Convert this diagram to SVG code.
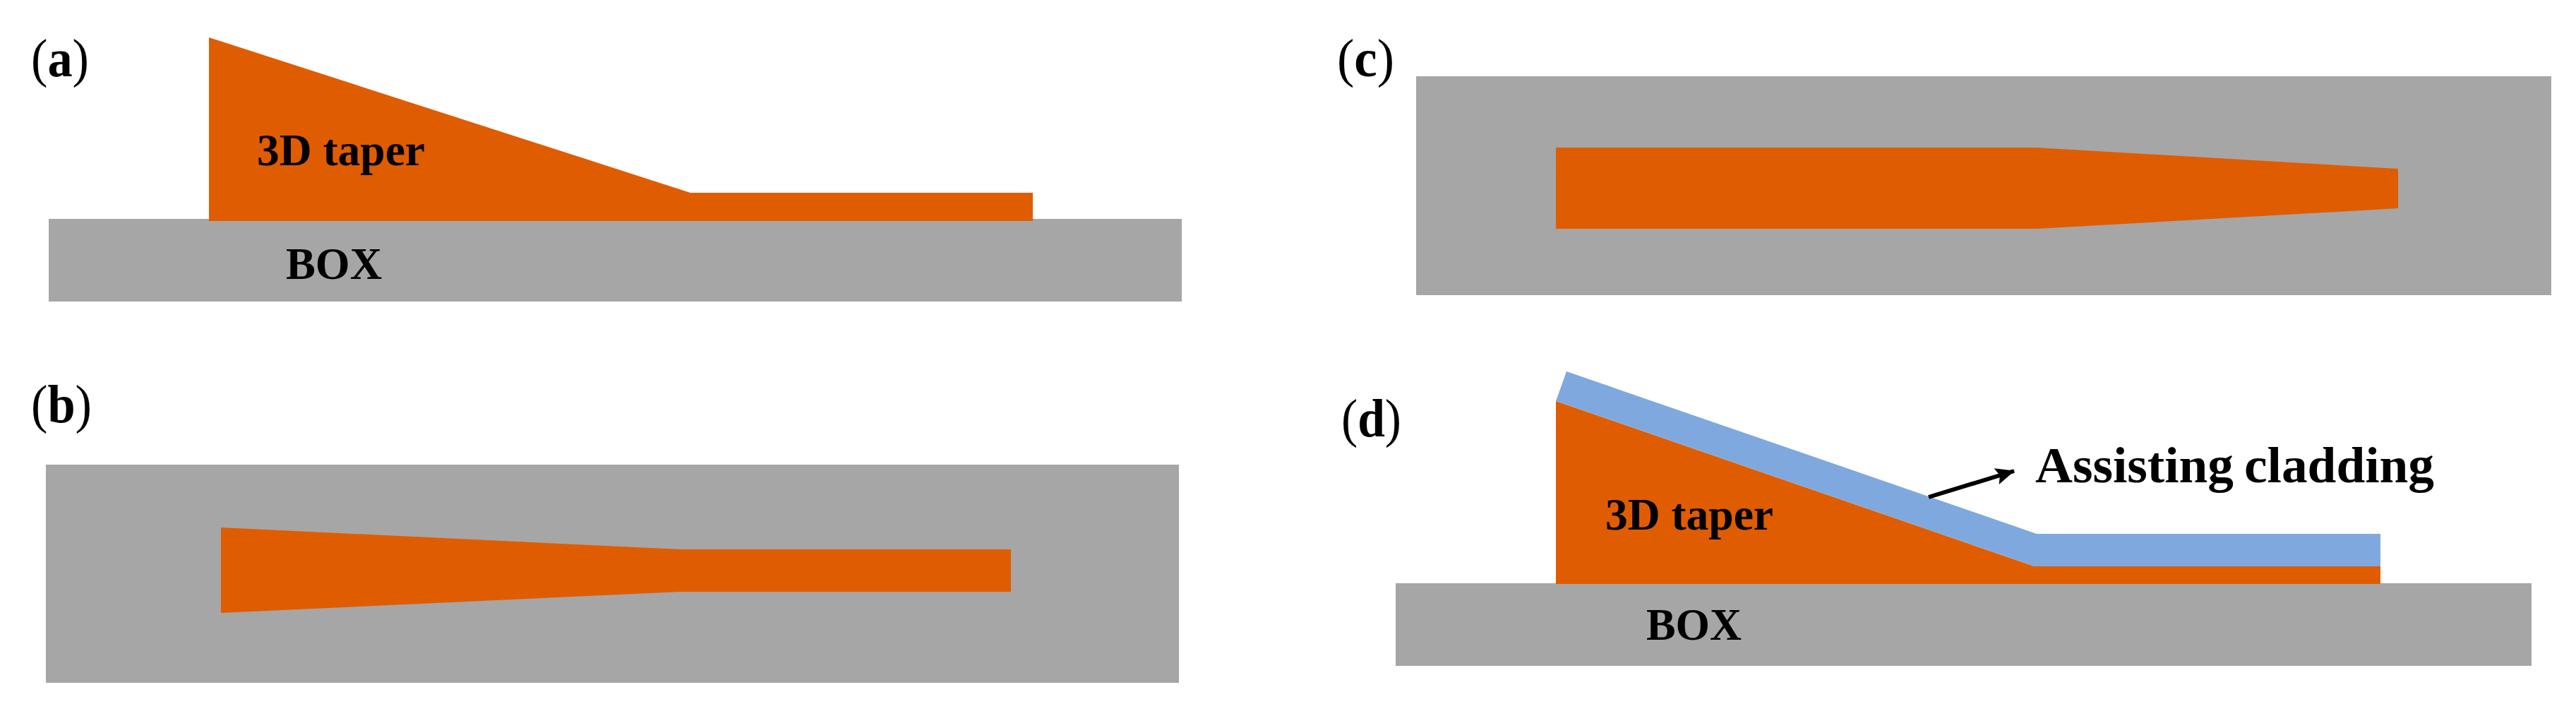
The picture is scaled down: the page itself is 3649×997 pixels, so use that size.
<svg xmlns="http://www.w3.org/2000/svg" width="3649" height="997" viewBox="0 0 3649 997">
<style>
text{font-family:"Liberation Serif","Times New Roman",serif;fill:#000;font-size:63px}
.b{font-weight:bold}
.p{font-size:76px}
.l{font-size:72px}
.g{fill:#a6a6a6}
.o{fill:#e05c00}
.c{fill:#7fa9de}
</style>
<defs><marker id="ah" markerUnits="userSpaceOnUse" markerWidth="30" markerHeight="26" refX="26" refY="13" orient="auto"><path d="M0 1L27 13L0 25L5 13Z" fill="#000"/></marker></defs>
<rect width="3649" height="997" fill="#fff"/>
<g id="panel-a">
<rect class="g" x="69" y="310" width="1605" height="117"/>
<path class="o" d="M296 53L978 273H1463V313H296Z"/>
<text class="b" x="364" y="234" textLength="238" lengthAdjust="spacingAndGlyphs">3D taper</text>
<text class="b" x="405" y="395" textLength="136" lengthAdjust="spacingAndGlyphs">BOX</text>
<text class="p" x="44" y="108" textLength="82" lengthAdjust="spacingAndGlyphs">(<tspan class="b">a</tspan>)</text>
</g>
<g id="panel-b">
<rect class="g" x="65" y="658" width="1605" height="309"/>
<path class="o" d="M313 747L964 778H1432V838H964L313 868Z"/>
<text class="p" x="44" y="598" textLength="86" lengthAdjust="spacingAndGlyphs">(<tspan class="b">b</tspan>)</text>
</g>
<g id="panel-c">
<rect class="g" x="2006" y="108" width="1608" height="310"/>
<path class="o" d="M2204 209H2885L3397 239V295L2885 324H2204Z"/>
<text class="p" x="1894" y="108" textLength="81" lengthAdjust="spacingAndGlyphs">(<tspan class="b">c</tspan>)</text>
</g>
<g id="panel-d">
<rect class="g" x="1977" y="826" width="1609" height="117"/>
<path class="o" d="M2204 568L2882 802H3372V827H2204Z"/>
<path class="c" d="M2204 568L2219 526L2885 756H3372V802H2882Z"/>
<text class="b" x="2274" y="750" textLength="238" lengthAdjust="spacingAndGlyphs">3D taper</text>
<text class="b" x="2332" y="906" textLength="135" lengthAdjust="spacingAndGlyphs">BOX</text>
<text class="b l" y="683"><tspan x="2883" textLength="281" lengthAdjust="spacingAndGlyphs">Assisting</tspan> <tspan x="3179" textLength="269" lengthAdjust="spacingAndGlyphs">cladding</tspan></text>
<text class="p" x="1900" y="618" textLength="85" lengthAdjust="spacingAndGlyphs">(<tspan class="b">d</tspan>)</text>
</g>
<g id="connectors">
<line x1="2732" y1="704" x2="2853" y2="667" stroke="#000" stroke-width="6" marker-end="url(#ah)"/>
</g>
</svg>
